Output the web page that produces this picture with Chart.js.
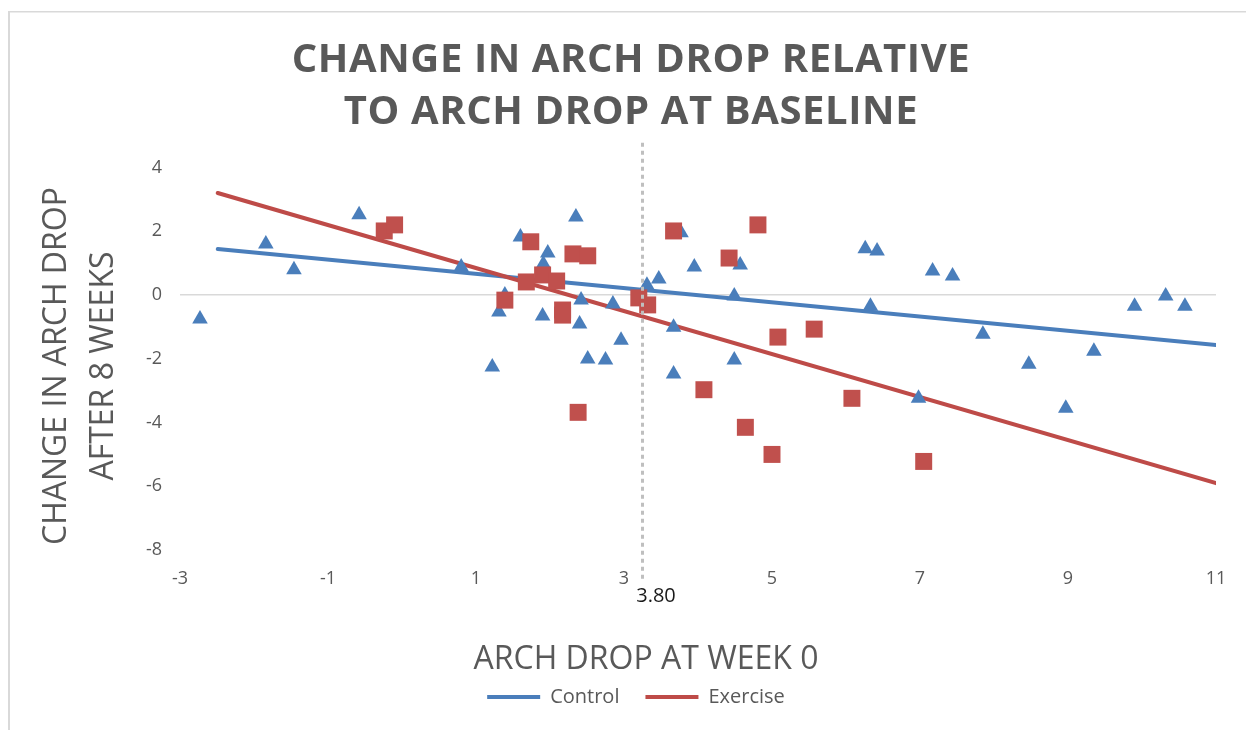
<!DOCTYPE html>
<html>
<head>
<meta charset="utf-8">
<script src="https://cdn.jsdelivr.net/npm/chart.js@4"></script>
<style>
  html, body { margin: 0; padding: 0; background: #ffffff; }
  #wrap { position: relative; width: 1246px; height: 730px; }
</style>
</head>
<body>
<div id="wrap"><canvas id="c" width="1246" height="730"></canvas></div>
<script>
// ---- data ----
const xTicks = [-3, -1, 1, 3, 5, 7, 9, 11];
const yTicks = [-8, -6, -4, -2, 0, 2, 4];

const controlX = [-2.73, -1.84, -1.46, -0.58, 0.80, 1.22, 1.31, 1.39, 1.60, 1.97, 1.91, 1.90, 2.35, 2.42, 2.40, 2.85, 2.96, 2.51, 2.75, 3.31, 3.47, 3.67, 3.67, 3.77, 3.95, 4.57, 4.49, 4.49, 6.26, 6.42, 6.33, 6.98, 7.17, 7.44, 7.85, 8.47, 8.97, 9.35, 9.90, 10.32, 10.58];
const controlY = [-0.75, 1.60, 0.79, 2.52, 0.88, -2.26, -0.53, 0.00, 1.82, 1.32, 0.97, -0.66, 2.45, -0.16, -0.91, -0.28, -1.42, -2.01, -2.04, 0.31, 0.50, -1.01, -2.48, 1.95, 0.88, 0.94, -0.03, -2.04, 1.45, 1.38, -0.35, -3.24, 0.75, 0.60, -1.23, -2.17, -3.55, -1.76, -0.35, -0.03, -0.35];

const exerciseX = [-0.24, -0.10, 1.39, 1.68, 1.74, 1.90, 2.09, 2.17, 2.17, 2.31, 2.51, 2.38, 3.20, 3.32, 3.67, 4.08, 4.42, 4.64, 4.81, 5.00, 5.08, 5.57, 6.08, 7.05];
const exerciseY = [2.01, 2.20, -0.16, 0.41, 1.67, 0.63, 0.44, -0.47, -0.63, 1.29, 1.23, -3.68, -0.09, -0.31, 2.01, -2.97, 1.16, -4.15, 2.20, -5.00, -1.32, -1.07, -3.24, -5.22];

const controlTrendX = [-2.49, 11];
const controlTrendY = [1.44, -1.57];
const exerciseTrendX = [-2.49, 11];
const exerciseTrendY = [3.20, -5.90];

const refLineX = [3.25, 3.25];
const refLineY = [4.78, -9.0];
const refLabel = '3.80';

const seriesNames = ['Control', 'Exercise'];
const chartTitle = ['CHANGE IN ARCH DROP RELATIVE', 'TO ARCH DROP AT BASELINE'];
const yTitle = ['CHANGE IN ARCH DROP', 'AFTER 8 WEEKS'];
const xTitle = 'ARCH DROP AT WEEK 0';

// ---- helpers ----
const pts = (xs, ys) => xs.map((x, i) => ({ x: x, y: ys[i] }));
const FONT = '"Open Sans", "Liberation Sans", sans-serif';
const GREY = '#595959';
const BLUE = '#4a7ebb';
const RED = '#c0504d';

function shiftDraw(obj, method, dx, dy, spacing) {
  if (!obj || obj['__patched_' + method]) return;
  const orig = obj[method];
  obj[method] = function () {
    const c = this.ctx;
    c.save();
    c.translate(dx, dy);
    if (spacing) c.letterSpacing = spacing;
    const r = orig.apply(this, arguments);
    c.restore();
    return r;
  };
  obj['__patched_' + method] = true;
}

const decorPlugin = {
  id: 'decor',
  beforeDraw(chart) {
    const c = chart.ctx;
    c.save();
    c.fillStyle = '#ffffff';
    c.fillRect(0, 0, chart.width, chart.height);
    c.fillStyle = '#d9d9d9';
    c.fillRect(8, 11, 2, chart.height - 11);
    c.fillRect(8, 11, chart.width - 8, 1.5);
    c.restore();
  },
  afterLayout(chart) {
    shiftDraw(chart.titleBlock, 'draw', 8, 0, '0.6px');
    shiftDraw(chart.legend, 'draw', 13, 0);
    shiftDraw(chart.scales.x, 'drawTitle', -52, 15);
    shiftDraw(chart.scales.y, 'drawTitle', 0, 12);
  },
  afterDatasetsDraw(chart) {
    const meta = chart.getDatasetMeta(4);
    if (!meta || !meta.data || meta.data.length < 2) return;
    const p = meta.data[1];
    const c = chart.ctx;
    c.save();
    c.font = '20px ' + FONT;
    c.fillStyle = '#1a1a1a';
    c.textAlign = 'center';
    c.textBaseline = 'middle';
    c.fillText(refLabel, p.x + 13.5, p.y + 14);
    c.restore();
  }
};

new Chart(document.getElementById('c'), {
  type: 'scatter',
  data: {
    datasets: [
      {
        label: seriesNames[0],
        data: pts(controlTrendX, controlTrendY),
        showLine: true,
        borderColor: BLUE,
        backgroundColor: BLUE,
        borderWidth: 4,
        pointRadius: 0,
        borderCapStyle: 'round',
        order: 4
      },
      {
        label: seriesNames[1],
        data: pts(exerciseTrendX, exerciseTrendY),
        showLine: true,
        borderColor: '#be4b48',
        backgroundColor: '#be4b48',
        borderWidth: 4,
        pointRadius: 0,
        borderCapStyle: 'round',
        order: 3
      },
      {
        label: seriesNames[0] + ' data',
        data: pts(controlX, controlY),
        pointStyle: 'triangle',
        pointRadius: 9,
        pointBackgroundColor: BLUE,
        pointBorderColor: BLUE,
        pointBorderWidth: 0,
        order: 2
      },
      {
        label: seriesNames[1] + ' data',
        data: pts(exerciseX, exerciseY),
        pointStyle: 'rect',
        pointRadius: 12,
        pointBackgroundColor: RED,
        pointBorderColor: RED,
        pointBorderWidth: 0,
        order: 1
      },
      {
        label: 'Baseline mean ' + refLabel,
        data: pts(refLineX, refLineY),
        showLine: true,
        borderColor: '#bfbfbf',
        borderWidth: 3,
        borderDash: [4, 4],
        pointRadius: 0,
        clip: false,
        order: 0
      }
    ]
  },
  options: {
    responsive: false,
    animation: false,
    devicePixelRatio: 1,
    layout: { padding: { left: 30, right: 30, top: 10, bottom: 13 } },
    plugins: {
      tooltip: { enabled: false },
      title: {
        display: true,
        text: chartTitle,
        color: GREY,
        font: { family: FONT, size: 40, weight: 'bold', lineHeight: 1.3 },
        padding: { top: 25, bottom: 3 }
      },
      legend: {
        display: true,
        position: 'bottom',
        labels: {
          filter: (item) => item.datasetIndex < 2,
          sort: (a, b) => a.datasetIndex - b.datasetIndex,
          usePointStyle: true,
          pointStyle: 'line',
          pointStyleWidth: 53,
          color: GREY,
          padding: 26,
          font: { family: FONT, size: 20 }
        }
      }
    },
    scales: {
      x: {
        type: 'linear',
        min: -3,
        max: 11,
        afterBuildTicks: (s) => { s.ticks = xTicks.map(v => ({ value: v })); },
        afterFit: (s) => { s.height = 95; },
        grid: { display: false, drawTicks: false },
        border: { display: false },
        ticks: {
          color: GREY,
          padding: 2,
          maxRotation: 0,
          autoSkip: false,
          font: { family: FONT, size: 18 }
        },
        title: {
          display: true,
          text: xTitle,
          color: GREY,
          font: { family: FONT, size: 32, lineHeight: 1 },
          padding: { top: 0, bottom: 0 }
        }
      },
      y: {
        type: 'linear',
        min: -8.5,
        max: 4.8,
        afterBuildTicks: (s) => { s.ticks = yTicks.map(v => ({ value: v })); },
        afterFit: (s) => { s.width = 150; },
        grid: {
          drawTicks: false,
          lineWidth: 1.5,
          color: (ctx) => (ctx.tick && ctx.tick.value === 0 ? '#d9d9d9' : 'rgba(0,0,0,0)')
        },
        border: { display: false },
        ticks: {
          color: GREY,
          padding: 18,
          font: { family: FONT, size: 18 }
        },
        title: {
          display: true,
          text: yTitle,
          color: GREY,
          font: { family: FONT, size: 32, lineHeight: 1.47 },
          padding: { top: 3, bottom: 0 }
        }
      }
    }
  },
  plugins: [decorPlugin]
});
</script>
</body>
</html>
